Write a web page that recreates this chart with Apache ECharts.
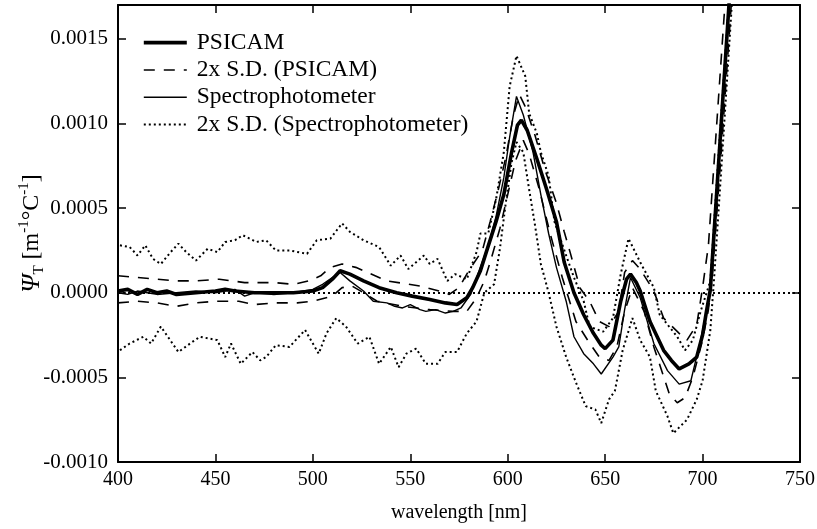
<!DOCTYPE html>
<html>
<head>
    <meta charset="utf-8">
    <title>PSICAM vs Spectrophotometer</title>
    <script src="https://cdn.jsdelivr.net/npm/echarts@6/dist/echarts.min.js"></script>
    <style>
        html, body {margin: 0; padding: 0; background: #fff;}
    </style>
</head>
<body>
<div id="main" style="width: 817px;height:529px;"></div>

<script>
    // wavelength [nm] / value pairs
    var psicamWl = [400, 405, 410, 415, 420, 425, 430, 440, 450, 455, 460, 470, 480, 490, 500, 505, 510, 514, 519, 526, 534, 543, 551, 560, 568, 574, 579, 582, 586, 589, 594, 598, 602, 605, 607, 610, 615, 620, 625, 629, 634, 639, 644, 648, 650, 654, 658, 661, 663, 666, 668, 673, 680, 684, 688, 693, 697, 700, 702, 704, 709, 714];
    var psicamVal = [0.00001, 0.00002, -0.00001, 0.00002, 0, 0.00001, -0.00001, 0, 0.00001, 0.00002, 0.00001, 0, 0, 0, 0.00001, 0.00003, 0.00008, 0.00013, 0.00011, 0.00007, 0.00003, 0, -0.00002, -0.00004, -0.00006, -0.00007, -0.00003, 0.00003, 0.00013, 0.00024, 0.00042, 0.00058, 0.00083, 0.00099, 0.00102, 0.00096, 0.00079, 0.00061, 0.00042, 0.00018, 0, -0.00013, -0.00024, -0.00031, -0.00033, -0.00028, -0.00005, 0.00008, 0.00011, 0.00006, 0.00001, -0.00017, -0.00034, -0.0004, -0.00045, -0.00042, -0.00038, -0.00025, -0.00011, 0.00002, 0.0009, 0.00178];

    var psicamHiWl = [400, 410, 420, 430, 440, 452, 465, 480, 490, 498, 504, 509, 515, 522, 526, 538, 555, 565, 570, 575, 580, 587, 591, 595, 599, 603, 606, 609, 614, 619, 625, 629, 632, 637, 642, 647, 652, 657, 660, 664, 668, 675, 680, 688, 692, 697, 700, 703, 708, 713];
    var psicamHiVal = [0.0001, 0.00009, 0.00008, 0.00007, 0.00007, 0.00008, 0.00006, 0.00006, 0.00005, 0.00007, 0.0001, 0.00015, 0.00017, 0.00015, 0.00013, 0.00007, 0.00004, 0.00001, -0.00001, 0.00003, 0.00013, 0.00025, 0.00042, 0.0006, 0.0008, 0.00105, 0.00117, 0.0011, 0.00093, 0.00073, 0.00053, 0.00036, 0.00024, 0.00003, -0.00005, -0.00017, -0.0002, -0.00011, 0.00012, 0.00019, 0.00014, 0.00001, -0.00015, -0.00024, -0.00028, -0.00019, 0.00003, 0.00028, 0.00112, 0.00196];

    var psicamLoWl = [400, 410, 420, 430, 440, 450, 462, 470, 480, 492, 500, 510, 515, 520, 526, 533, 546, 560, 572, 579, 584, 588, 591, 596, 600, 604, 608, 611, 616, 622, 628, 635, 641, 647, 652, 656, 660, 664, 670, 675, 683, 687, 691, 695, 700, 703, 705, 710, 715];
    var psicamLoVal = [-0.00006, -0.00005, -0.00006, -0.00008, -0.00006, -0.00005, -0.00005, -0.00007, -0.00006, -0.00006, -0.00005, -0.00002, 0.00003, 0.00004, 0, -0.00005, -0.00008, -0.0001, -0.00011, -0.00011, -0.00003, 0.00007, 0.00018, 0.00038, 0.00058, 0.00078, 0.0009, 0.00082, 0.00062, 0.00034, 0.00009, -0.00017, -0.00028, -0.00038, -0.0004, -0.00032, -0.00011, 0.00003, -0.00011, -0.00032, -0.0006, -0.00065, -0.00062, -0.0005, -0.00028, -0.0001, 0.0001, 0.0009, 0.00175];

    var specWl = [400, 405, 410, 415, 420, 430, 440, 450, 460, 465, 470, 480, 490, 500, 505, 510, 514, 519, 526, 531, 538, 542, 546, 550, 555, 558, 563, 568, 572, 576, 581, 585, 590, 594, 598, 601, 604.5, 608, 613, 617, 621, 625, 630, 634, 639, 644, 648, 654, 657, 660, 663, 668, 675, 682, 688, 694, 699, 703, 704, 709, 714];
    var specVal = [0, -0.00001, 0.00001, 0, -0.00001, 0, 0.00001, 0, 0.00002, -0.00002, 0, -0.00001, 0, 0.00002, 0.00005, 0.00009, 0.00012, 0.00007, 0.00001, -0.00005, -0.00006, -0.00008, -0.00009, -0.00007, -0.0001, -0.00011, -0.0001, -0.00012, -0.00011, -0.00009, -0.00001, 0.00012, 0.00028, 0.00045, 0.00068, 0.00092, 0.00116, 0.00105, 0.00083, 0.00058, 0.00035, 0.00015, -0.00005, -0.00026, -0.00036, -0.00042, -0.00048, -0.00038, -0.00032, -0.0001, 0.00009, -0.00003, -0.0003, -0.00046, -0.00054, -0.00052, -0.00028, -0.00005, 0.00002, 0.0009, 0.00178];

    var specHiWl = [401, 406, 410, 414, 418, 422, 427, 431, 435, 440, 446, 451, 455, 460, 464, 471, 476, 481, 488, 497, 502, 509, 515, 519, 526, 534, 540, 545, 549, 557, 560, 564, 569, 573, 579, 584, 586, 590, 594, 598, 601, 604.5, 609, 611, 615, 617, 621, 624, 630, 634, 639, 642, 649, 654, 658, 662, 668, 675, 678, 687, 691, 695, 699, 704, 709, 714];
    var specHiVal = [0.00028, 0.00027, 0.00022, 0.00028, 0.0002, 0.00017, 0.00024, 0.00029, 0.00024, 0.00019, 0.00026, 0.00024, 0.0003, 0.00031, 0.00034, 0.0003, 0.00031, 0.00025, 0.00025, 0.00023, 0.00031, 0.00032, 0.00041, 0.00036, 0.00031, 0.00027, 0.00016, 0.00022, 0.00014, 0.00022, 0.00017, 0.0002, 0.00007, 0.00011, 0.00008, 0.00024, 0.00035, 0.00035, 0.00055, 0.00083, 0.00122, 0.0014, 0.00128, 0.00106, 0.00094, 0.00083, 0.00069, 0.00042, 0.00022, 0.00009, -0.00005, -0.0002, -0.00023, -0.00015, 0.00011, 0.00032, 0.00018, 0.00003, -0.00013, -0.00026, -0.00034, -0.00028, -0.00011, 0.00007, 0.00095, 0.0018];

    var specLoWl = [401, 406, 413, 417, 422, 431, 437, 442, 451, 455, 458, 463, 469, 473, 476, 481, 488, 496, 503, 507, 512, 517, 523, 529, 534, 540, 544, 548, 553, 558, 564, 568, 574, 579, 584, 588, 593, 596, 599, 602, 604.5, 608, 611, 614, 617, 621, 625, 630, 635, 640, 645, 648, 652, 655, 659, 664, 668, 673, 676, 682, 685, 692, 697, 700, 704, 706, 710, 715];
    var specLoVal = [-0.00034, -0.0003, -0.00026, -0.0003, -0.0002, -0.00035, -0.0003, -0.00026, -0.00028, -0.00038, -0.0003, -0.00042, -0.00035, -0.0004, -0.00038, -0.00031, -0.00032, -0.00022, -0.00036, -0.00024, -0.00015, -0.0002, -0.0003, -0.00026, -0.00042, -0.00032, -0.00044, -0.00036, -0.00033, -0.00042, -0.00042, -0.00035, -0.00035, -0.00024, -0.00017, 0, 0.00005, 0.00026, 0.00053, 0.00077, 0.00089, 0.00083, 0.00061, 0.0004, 0.00017, 0, -0.0002, -0.00038, -0.00053, -0.00067, -0.00069, -0.00077, -0.00063, -0.00058, -0.00034, -0.00015, -0.00028, -0.00038, -0.00058, -0.00073, -0.00083, -0.00075, -0.00063, -0.00052, -0.00022, 0.0001, 0.0008, 0.0017];

    var xTicks = [400, 450, 500, 550, 600, 650, 700, 750];

    function pairs(wl, val) {
        var out = [];
        for (var i = 0; i < wl.length; i++) out.push([wl[i], val[i]]);
        return out;
    }

    var FONT = 'Liberation Serif';
    var myChart = echarts.init(document.getElementById('main'));

    var tickStyle = {show: true, inside: true, length: 8, lineStyle: {color: '#000', width: 1.5}};
    var lineStyleAxis = {show: true, onZero: false, lineStyle: {color: '#000', width: 2}};

    var option = {
        animation: false,
        backgroundColor: '#fff',
        grid: {left: 118, right: 17, top: 5, bottom: 67, outerBoundsMode: 'none', containLabel: false},
        legend: {
            orient: 'vertical',
            left: 137,
            top: 24,
            itemWidth: 43,
            itemHeight: 14,
            itemGap: 0,
            lineStyle: {width: 'inherit'},
            itemStyle: {color: 'rgba(0,0,0,0)', borderColor: 'rgba(0,0,0,0)', borderWidth: 0, opacity: 0},
            textStyle: {fontFamily: FONT, fontSize: 23.5, color: '#000', lineHeight: 27.3, padding: [0, 0, 0, 5]},
            data: ['PSICAM', '2x S.D. (PSICAM)', 'Spectrophotometer', '2x S.D. (Spectrophotometer)']
        },
        xAxis: [{
            type: 'value', min: xTicks[0], max: xTicks[xTicks.length - 1], interval: 50,
            axisLine: lineStyleAxis, axisTick: tickStyle, splitLine: {show: false},
            axisLabel: {fontFamily: FONT, fontSize: 20, color: '#000', margin: 8},
            name: 'wavelength [nm]', nameLocation: 'middle', nameGap: 41, nameMoveOverlap: false,
            nameTextStyle: {fontFamily: FONT, fontSize: 20, color: '#000'}
        }, {
            type: 'value', position: 'top', min: 400, max: 750, interval: 50,
            axisLine: lineStyleAxis, axisTick: tickStyle, splitLine: {show: false},
            axisLabel: {show: false}
        }],
        yAxis: [{
            type: 'value', min: -0.001, max: 0.0017, interval: 0.0005,
            axisLine: lineStyleAxis, axisTick: tickStyle, splitLine: {show: false},
            axisLabel: {
                fontFamily: FONT, fontSize: 21, color: '#000', margin: 10, showMaxLabel: false,
                formatter: function (v) { return v.toFixed(4); }
            },
            name: '{i|Ψ}{sub|T} [m{sup|-1}°C{sup|-1}]',
            nameLocation: 'middle', nameRotate: 90, nameGap: 71, nameMoveOverlap: false,
            nameTextStyle: {
                fontFamily: FONT, fontSize: 24, color: '#000', lineHeight: 30,
                rich: {
                    i: {fontFamily: FONT, fontSize: 26, fontStyle: 'italic', color: '#000', lineHeight: 30},
                    sub: {fontFamily: FONT, fontSize: 15, color: '#000', verticalAlign: 'bottom', lineHeight: 30},
                    sup: {fontFamily: FONT, fontSize: 15, color: '#000', verticalAlign: 'top', lineHeight: 30}
                }
            }
        }, {
            type: 'value', position: 'right', min: -0.001, max: 0.0017, interval: 0.0005,
            axisLine: lineStyleAxis, axisTick: tickStyle, splitLine: {show: false},
            axisLabel: {show: false}
        }],
        series: [
            {
                name: '2x S.D. (Spectrophotometer)', type: 'line', symbol: 'none', z: 2,
                data: pairs(specHiWl, specHiVal),
                lineStyle: {color: '#000', width: 2, type: [2, 3]},
                itemStyle: {color: '#000'},
                markLine: {
                    silent: true, symbol: 'none', label: {show: false},
                    lineStyle: {color: '#000', width: 2, type: [2, 3]},
                    data: [{yAxis: 0}]
                }
            },
            {
                name: '2x S.D. (Spectrophotometer)', type: 'line', symbol: 'none', z: 2,
                data: pairs(specLoWl, specLoVal),
                lineStyle: {color: '#000', width: 2, type: [2, 3]},
                itemStyle: {color: '#000'}
            },
            {
                name: '2x S.D. (PSICAM)', type: 'line', symbol: 'none', z: 3,
                data: pairs(psicamHiWl, psicamHiVal),
                lineStyle: {color: '#000', width: 1.6, type: [11, 9]},
                itemStyle: {color: '#000'}
            },
            {
                name: '2x S.D. (PSICAM)', type: 'line', symbol: 'none', z: 3,
                data: pairs(psicamLoWl, psicamLoVal),
                lineStyle: {color: '#000', width: 1.6, type: [11, 9]},
                itemStyle: {color: '#000'}
            },
            {
                name: 'Spectrophotometer', type: 'line', symbol: 'none', z: 4,
                data: pairs(specWl, specVal),
                lineStyle: {color: '#000', width: 1.4},
                itemStyle: {color: '#000'}
            },
            {
                name: 'PSICAM', type: 'line', symbol: 'none', z: 5,
                data: pairs(psicamWl, psicamVal),
                lineStyle: {color: '#000', width: 3.6},
                itemStyle: {color: '#000'}
            }
        ]
    };

    myChart.setOption(option);
</script>
</body>
</html>
